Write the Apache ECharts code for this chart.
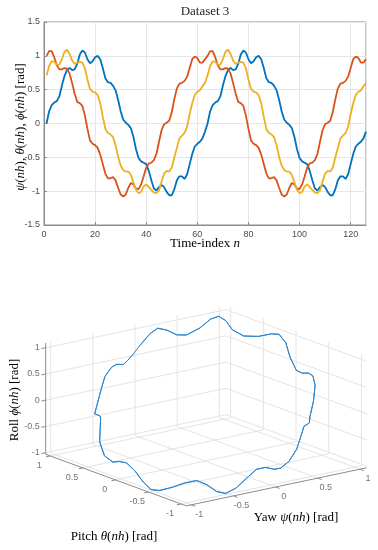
<!DOCTYPE html>
<html><head><meta charset="utf-8">
<script src="https://cdn.jsdelivr.net/npm/echarts@6/dist/echarts.min.js"></script>
<style>html,body{margin:0;padding:0;background:#fff}#c{width:378px;height:550px}</style>
</head><body><div id="c"></div>
<script>
// ---------- data ----------
const psi = [0.00,0.18,0.27,0.31,0.33,0.40,0.56,0.70,0.79,0.82,0.79,0.80,0.88,1.02,1.08,1.05,0.95,0.89,0.92,0.98,1.00,0.95,0.82,0.67,0.61,0.60,0.56,0.49,0.35,0.18,0.06,0.01,-0.02,-0.07,-0.20,-0.38,-0.51,-0.56,-0.58,-0.60,-0.70,-0.84,-0.96,-0.99,-0.94,-0.91,-0.94,-1.01,-1.06,-1.06,-0.97,-0.84,-0.78,-0.78,-0.82,-0.75,-0.60,-0.45,-0.34,-0.30,-0.27,-0.22,-0.12,
             0.00,0.18,0.27,0.31,0.33,0.40,0.56,0.70,0.79,0.82,0.79,0.80,0.88,1.02,1.08,1.05,0.95,0.89,0.92,0.98,1.00,0.95,0.82,0.67,0.61,0.60,0.56,0.49,0.35,0.18,0.06,0.01,-0.02,-0.07,-0.20,-0.38,-0.51,-0.56,-0.58,-0.60,-0.70,-0.84,-0.96,-0.99,-0.94,-0.91,-0.94,-1.01,-1.06,-1.06,-0.97,-0.84,-0.78,-0.78,-0.82,-0.75,-0.60,-0.45,-0.34,-0.30,-0.27,-0.22,-0.12];
const theta = [1.00,1.07,1.07,0.98,0.86,0.80,0.80,0.82,0.81,0.74,0.60,0.44,0.32,0.30,0.26,0.12,-0.08,-0.25,-0.30,-0.32,-0.36,-0.46,-0.60,-0.74,-0.81,-0.81,-0.79,-0.84,-0.95,-1.05,-1.08,-1.05,-0.95,-0.88,-0.90,-0.96,-0.97,-0.90,-0.78,-0.65,-0.59,-0.58,-0.54,-0.45,-0.27,-0.10,-0.01,0.01,0.04,0.17,0.36,0.52,0.59,0.60,0.63,0.69,0.82,0.95,0.99,0.97,0.90,0.90,0.95,
               1.00,1.07,1.07,0.98,0.86,0.80,0.80,0.82,0.81,0.74,0.60,0.44,0.32,0.30,0.26,0.12,-0.08,-0.25,-0.30,-0.32,-0.36,-0.46,-0.60,-0.74,-0.81,-0.81,-0.79,-0.84,-0.95,-1.05,-1.08,-1.05,-0.95,-0.88,-0.90,-0.96,-0.97,-0.90,-0.78,-0.65,-0.59,-0.58,-0.54,-0.45,-0.27,-0.10,-0.01,0.01,0.04,0.17,0.36,0.52,0.59,0.60,0.63,0.69,0.82,0.95,0.99,0.97,0.90,0.90,0.95];
const phi = [0.71,0.85,0.92,0.91,0.87,0.87,0.95,1.06,1.09,1.03,0.93,0.88,0.90,0.91,0.90,0.82,0.65,0.51,0.47,0.46,0.42,0.30,0.10,-0.08,-0.14,-0.16,-0.20,-0.32,-0.49,-0.62,-0.69,-0.71,-0.71,-0.76,-0.87,-0.98,-1.03,-1.01,-0.93,-0.90,-0.94,-0.98,-1.02,-1.03,-0.99,-0.86,-0.74,-0.70,-0.71,-0.65,-0.50,-0.36,-0.22,-0.18,-0.14,-0.05,0.14,0.30,0.42,0.47,0.49,0.55,0.60,
             0.71,0.85,0.92,0.91,0.87,0.87,0.95,1.06,1.09,1.03,0.93,0.88,0.90,0.91,0.90,0.82,0.65,0.51,0.47,0.46,0.42,0.30,0.10,-0.08,-0.14,-0.16,-0.20,-0.32,-0.49,-0.62,-0.69,-0.71,-0.71,-0.76,-0.87,-0.98,-1.03,-1.01,-0.93,-0.90,-0.94,-0.98,-1.02,-1.03,-0.99,-0.86,-0.74,-0.70,-0.71,-0.65,-0.50,-0.36,-0.22,-0.18,-0.14,-0.05,0.14,0.30,0.42,0.47,0.49,0.55,0.60];
const timeIndex = psi.map((_, i) => i + 1);
const ticks3d = [-1, -0.5, 0, 0.5, 1];

// ---------- 3D view (orthographic, az -37.5) ----------
const O3 = [205, 407];
const VY = [84.3, -17.8], VP = [-65.4, -24], VR = [0, -52.5];
function proj(y, p, r) {
  return [O3[0] + y * VY[0] + p * VP[0] + r * VR[0], O3[1] + y * VY[1] + p * VP[1] + r * VR[1]];
}
const yMin = Math.min(...psi), yMax = Math.max(...psi);
const pMin = Math.min(...theta), pMax = Math.max(...theta);
const rMin = Math.min(...phi), rMax = Math.max(...phi);

const gridSegs = [], axisSegs = [];
function seg(arr, a, b) { arr.push([a[0], a[1], b[0], b[1]]); }
ticks3d.forEach(t => {
  seg(gridSegs, proj(t, pMax, rMin), proj(t, pMax, rMax));
  seg(gridSegs, proj(t, pMin, rMin), proj(t, pMax, rMin));
  seg(gridSegs, proj(yMax, t, rMin), proj(yMax, t, rMax));
  seg(gridSegs, proj(yMin, t, rMin), proj(yMax, t, rMin));
  seg(gridSegs, proj(yMin, pMax, t), proj(yMax, pMax, t));
  seg(gridSegs, proj(yMax, pMin, t), proj(yMax, pMax, t));
});
seg(axisSegs, proj(yMin, pMax, rMin), proj(yMin, pMax, rMax));
seg(axisSegs, proj(yMin, pMin, rMin), proj(yMin, pMax, rMin));
seg(axisSegs, proj(yMin, pMin, rMin), proj(yMax, pMin, rMin));
ticks3d.forEach(t => {
  seg(axisSegs, proj(yMin, pMax, t), proj(yMin - 0.05, pMax, t));
  seg(axisSegs, proj(yMin, t, rMin), proj(yMin - 0.05, t, rMin));
  seg(axisSegs, proj(t, pMin, rMin), proj(t, pMin - 0.06, rMin));
});
const fmt = v => String(v);
const zLabels = ticks3d.map(t => ({ value: proj(yMin, pMax, t), name: fmt(t) }));
const pLabels = ticks3d.map(t => { const q = proj(yMin, t, rMin); return { value: [q[0] - 11, q[1] + 9.5], name: fmt(t) }; });
const yLabels = ticks3d.map(t => { const q = proj(t, pMin, rMin); return { value: [q[0] + 8, q[1] + 9.5], name: fmt(t) }; });
const curve3d = psi.map((v, i) => proj(v, theta[i], phi[i]));

function segRender(color) {
  return function (params, api) {
    const a = api.coord([api.value(0), api.value(1)]);
    const b = api.coord([api.value(2), api.value(3)]);
    return { type: 'line', shape: { x1: a[0], y1: a[1], x2: b[0], y2: b[1] }, style: { stroke: color, lineWidth: 1 } };
  };
}

const SERIF = "'Liberation Serif', 'DejaVu Serif', serif";
const SANS = "'Liberation Sans', Arial, sans-serif";
const tickColor = '#4d4d4d';
const rich = {
  n: { fontFamily: SERIF, fontSize: 13, color: '#262626' },
  i: { fontFamily: SERIF, fontSize: 13, fontStyle: 'italic', color: '#262626' }
};

const chart = echarts.init(document.getElementById('c'), null, { renderer: 'canvas' });
chart.setOption({
  animation: false,
  backgroundColor: '#fff',
  grid: [
    { left: 44, top: 22, width: 322, height: 203, show: true, borderColor: '#8c8c8c', borderWidth: 1, backgroundColor: 'transparent' },
    { left: 0, top: 0, width: 378, height: 550, show: false }
  ],
  xAxis: [
    { gridIndex: 0, type: 'value', min: 0, max: 126, interval: 20,
      axisLine: { onZero: false, lineStyle: { color: '#8c8c8c' } },
      axisTick: { inside: true, length: 3, lineStyle: { color: '#8c8c8c' } },
      axisLabel: { color: tickColor, fontSize: 9, fontFamily: SANS, margin: 5, showMaxLabel: false },
      splitLine: { lineStyle: { color: '#e6e6e6' } } },
    { gridIndex: 1, type: 'value', min: 0, max: 378, show: false }
  ],
  yAxis: [
    { gridIndex: 0, type: 'value', min: -1.5, max: 1.5, interval: 0.5,
      axisLine: { show: true, onZero: false, lineStyle: { color: '#8c8c8c' } },
      axisTick: { show: true, inside: true, length: 3, lineStyle: { color: '#8c8c8c' } },
      axisLabel: { color: tickColor, fontSize: 9, fontFamily: SANS, margin: 4 },
      splitLine: { lineStyle: { color: '#e6e6e6' } } },
    { gridIndex: 1, type: 'value', min: 0, max: 550, inverse: true, show: false }
  ],
  graphic: [
    { type: 'text', x: 205, y: 12, style: { text: 'Dataset 3', font: '13px ' + SERIF, fill: '#262626', align: 'center', verticalAlign: 'middle' } },
    { type: 'text', x: 205, y: 244, style: { text: '{n|Time-index }{i|n}', rich: rich, align: 'center', verticalAlign: 'middle' } },
    { type: 'text', x: 21, y: 127, rotation: Math.PI / 2, style: { text: '{i|ψ}{n|(}{i|nh}{n|), }{i|θ}{n|(}{i|nh}{n|), }{i|ϕ}{n|(}{i|nh}{n|) [rad]}', rich: rich, align: 'center', verticalAlign: 'middle' } },
    { type: 'text', x: 15, y: 400, rotation: Math.PI / 2, style: { text: '{n|Roll }{i|ϕ}{n|(}{i|nh}{n|) [rad]}', rich: rich, align: 'center', verticalAlign: 'middle' } },
    { type: 'text', x: 114, y: 537, style: { text: '{n|Pitch }{i|θ}{n|(}{i|nh}{n|) [rad]}', rich: rich, align: 'center', verticalAlign: 'middle' } },
    { type: 'text', x: 296, y: 518, style: { text: '{n|Yaw }{i|ψ}{n|(}{i|nh}{n|) [rad]}', rich: rich, align: 'center', verticalAlign: 'middle' } }
  ],
  series: [
    { type: 'line', xAxisIndex: 0, yAxisIndex: 0, data: psi.map((v, i) => [timeIndex[i], v]), showSymbol: false, lineStyle: { color: '#0072BD', width: 1.8 }, z: 3 },
    { type: 'line', xAxisIndex: 0, yAxisIndex: 0, data: theta.map((v, i) => [timeIndex[i], v]), showSymbol: false, lineStyle: { color: '#D95319', width: 1.8 }, z: 3 },
    { type: 'line', xAxisIndex: 0, yAxisIndex: 0, data: phi.map((v, i) => [timeIndex[i], v]), showSymbol: false, lineStyle: { color: '#EDB120', width: 1.8 }, z: 3 },
    { type: 'custom', xAxisIndex: 1, yAxisIndex: 1, data: gridSegs, renderItem: segRender('#e4e4e4'), clip: false, silent: true, z: 1 },
    { type: 'custom', xAxisIndex: 1, yAxisIndex: 1, data: axisSegs, renderItem: segRender('#8c8c8c'), clip: false, silent: true, z: 2 },
    { type: 'line', xAxisIndex: 1, yAxisIndex: 1, data: curve3d, showSymbol: false, lineStyle: { color: '#2a86d1', width: 1 }, z: 3 },
    { type: 'scatter', xAxisIndex: 1, yAxisIndex: 1, data: zLabels, symbolSize: 0, silent: true,
      label: { show: true, position: 'left', distance: 6, formatter: p => p.name, color: tickColor, fontSize: 9, fontFamily: SANS } },
    { type: 'scatter', xAxisIndex: 1, yAxisIndex: 1, data: pLabels, symbolSize: 0, silent: true,
      label: { show: true, position: 'inside', formatter: p => p.name, color: tickColor, fontSize: 9, fontFamily: SANS } },
    { type: 'scatter', xAxisIndex: 1, yAxisIndex: 1, data: yLabels, symbolSize: 0, silent: true,
      label: { show: true, position: 'inside', formatter: p => p.name, color: tickColor, fontSize: 9, fontFamily: SANS } }
  ]
});
</script></body></html>
